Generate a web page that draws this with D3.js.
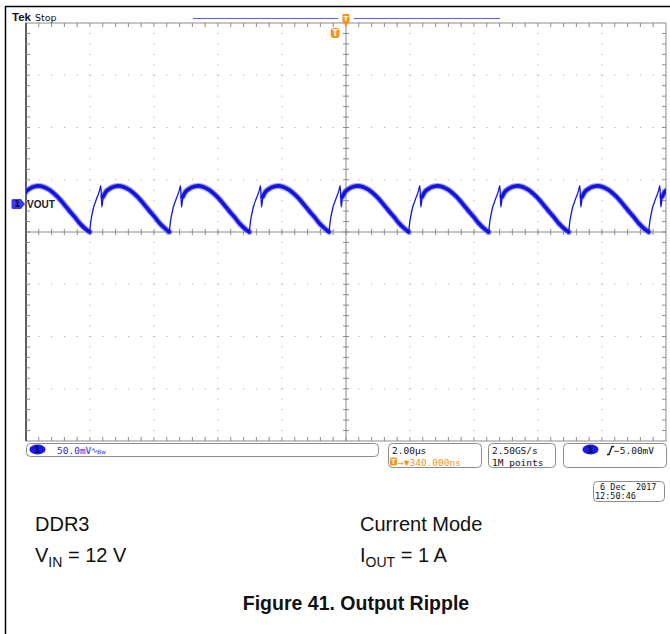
<!DOCTYPE html>
<html>
<head>
<meta charset="utf-8">
<script src="https://cdnjs.cloudflare.com/ajax/libs/d3/7.8.5/d3.min.js"></script>
<style>
body { margin: 0; background: #fff; }
svg { display: block; }
.mono { font-family: "DejaVu Sans Mono", monospace; font-size: 9.5px; }
.note { font-family: "Liberation Sans", Arial, sans-serif; font-size: 20px; fill: #111; }
</style>
</head>
<body>
<div id="svgholder"></div>
<script>

// one switching period of VOUT: [µs after the trough, mV]
var cycle_shape = [
    [0.00, -26.8], [0.03, -18.0], [0.06, -12.0], [0.31, 13.0], [0.35, 17.5],
    [0.38, -3.0], [0.42, 7.0], [0.50, 11.5], [0.62, 14.5], [0.78, 16.8],
    [0.90, 17.3], [1.06, 16.3], [1.25, 13.4], [1.40, 9.6], [1.56, 4.8],
    [1.72, -1.0], [1.87, -6.7], [2.03, -12.4], [2.18, -18.2], [2.34, -23.0]
]
// where each trough sits (µs, trigger point = 0)
var trough_times = [-10.17, -7.67, -5.18, -2.68, -0.19, 2.30, 4.80, 7.30, 9.80]

// scope settings
var mv_per_div = 50
var us_per_div = 2
var h_divs = 10
var v_divs = 8
var ch1_offset_div = 0.536
var horiz_delay_us = 0.34

// readouts
var ch1_label = "VOUT"
var ch1_scale = "50.0mV"
var timebase = "2.00µs"
var trig_delay = "340.000ns"
var sample_rate = ["2.50GS/s", "1M points"]
var trig_level = "\u22125.00mV"
var date_lines = [" 6 Dec  2017", "12:50:46"]

var notes_left = ["DDR3", "V|IN| = 12 V"]
var notes_right = ["Current Mode", "I|OUT| = 1 A"]
var caption = "Figure 41. Output Ripple"

var blue = "#1414e0"
var orange = "#f3941e"
var grey = "#8c8c8c"

var width = 670, height = 634
var grat = {left: 26, right: 666, top: 23, bottom: 441}

var svg = d3.select("#svgholder")
    .append("svg")
    .attr("width", width)
    .attr("height", height)

// outer page frame
svg.append("rect")
    .attr("x", 5.5).attr("y", 6.5)
    .attr("width", width + 10).attr("height", height + 10)
    .attr("fill", "none").attr("stroke", "#000").attr("stroke-width", 1.5)

var x = d3.scaleLinear()
    .domain([horiz_delay_us - us_per_div * h_divs / 2, horiz_delay_us + us_per_div * h_divs / 2])
    .range([grat.left, grat.right])
var y = d3.scaleLinear()
    .domain([(-v_divs / 2 - ch1_offset_div) * mv_per_div, (v_divs / 2 - ch1_offset_div) * mv_per_div])
    .range([grat.bottom, grat.top])

var xdiv = d3.scaleLinear().domain([0, h_divs]).range([grat.left, grat.right])
var ydiv = d3.scaleLinear().domain([0, v_divs]).range([grat.bottom, grat.top])

// ---- graticule
var g = svg.append("g")

// dotted grid lines
var dots = []
d3.range(1, h_divs).forEach(function(i) {
    if (i == h_divs / 2) return
    d3.range(1, v_divs * 5).forEach(function(j) { dots.push([xdiv(i), ydiv(j / 5)]) })
})
d3.range(1, v_divs).forEach(function(j) {
    if (j == v_divs / 2) return
    d3.range(1, h_divs * 5).forEach(function(i) { dots.push([xdiv(i / 5), ydiv(j)]) })
})
g.selectAll(".dot").data(dots).enter().append("rect")
    .attr("class", "dot")
    .attr("x", function(d) { return d[0] - 0.5 })
    .attr("y", function(d) { return d[1] - 0.5 })
    .attr("width", 1).attr("height", 1)
    .attr("fill", "#a0a0a0")

// centre cross and edges with minor ticks
var cx = xdiv(h_divs / 2), cy = ydiv(v_divs / 2)
g.append("line").attr("x1", grat.left).attr("x2", grat.right).attr("y1", cy).attr("y2", cy)
    .attr("stroke", grey)
g.append("line").attr("x1", cx).attr("x2", cx).attr("y1", grat.top).attr("y2", grat.bottom)
    .attr("stroke", grey)
g.append("rect")
    .attr("x", grat.left).attr("y", grat.top)
    .attr("width", grat.right - grat.left).attr("height", grat.bottom - grat.top)
    .attr("fill", "none").attr("stroke", grey)
g.append("line").attr("x1", grat.left).attr("x2", grat.left).attr("y1", grat.top).attr("y2", grat.bottom)
    .attr("stroke", "#444").attr("stroke-width", 1.6)

var ticks = []
d3.range(1, h_divs * 5).forEach(function(i) {
    var px = xdiv(i / 5)
    ticks.push([px, cy - 3, px, cy + 3])
    ticks.push([px, grat.top, px, grat.top + 4])
    ticks.push([px, grat.bottom - 4, px, grat.bottom])
})
d3.range(1, v_divs * 5).forEach(function(j) {
    var py = ydiv(j / 5)
    ticks.push([cx - 3, py, cx + 3, py])
    ticks.push([grat.left, py, grat.left + 4, py])
    ticks.push([grat.right - 4, py, grat.right, py])
})
g.selectAll(".tick").data(ticks).enter().append("line")
    .attr("class", "tick")
    .attr("x1", function(d) { return d[0] }).attr("y1", function(d) { return d[1] })
    .attr("x2", function(d) { return d[2] }).attr("y2", function(d) { return d[3] })
    .attr("stroke", grey)

// ---- trace
svg.append("clipPath").attr("id", "clip")
    .append("rect")
    .attr("x", grat.left).attr("y", grat.top)
    .attr("width", grat.right - grat.left).attr("height", grat.bottom - grat.top)

var points = []
trough_times.forEach(function(t0) {
    cycle_shape.forEach(function(p) { points.push([t0 + p[0], p[1]]) })
})

// fast edges are drawn thin like on the scope, slow parts thick
var runs = [], run = null
for (var i = 1; i < points.length; i++) {
    var slope = Math.abs(points[i][1] - points[i - 1][1]) / (points[i][0] - points[i - 1][0])
    var fast = slope > 80
    if (!run || run.fast != fast) {
        run = {fast: fast, pts: [points[i - 1]]}
        runs.push(run)
    }
    run.pts.push(points[i])
}

var line = d3.line()
    .x(function(d) { return x(d[0]) })
    .y(function(d) { return y(d[1]) })
    .curve(d3.curveMonotoneX)

var trace = svg.append("g").attr("clip-path", "url(#clip)")
trace.selectAll(".fuzz").data(runs.filter(function(r) { return !r.fast })).enter()
    .append("path").attr("class", "fuzz")
    .attr("d", function(r) { return line(r.pts) })
    .attr("fill", "none").attr("stroke", "#5c5cf2").attr("stroke-opacity", 0.6)
    .attr("stroke-width", 6).attr("stroke-linecap", "round").attr("stroke-linejoin", "round")
trace.selectAll(".wave").data(runs).enter()
    .append("path").attr("class", "wave")
    .attr("d", function(r) { return line(r.pts) })
    .attr("fill", "none").attr("stroke", blue)
    .attr("stroke-width", function(r) { return r.fast ? 1.3 : 3.6 })
    .attr("stroke-linecap", "round").attr("stroke-linejoin", "round")

// ---- channel marker
var my = y(0)
svg.append("path")
    .attr("d", "M13," + (my - 5) + "h8l4,5l-4,5h-8a1.5,1.5 0 0 1 -1.5,-1.5v-7a1.5,1.5 0 0 1 1.5,-1.5z")
    .attr("fill", "#3a3af0")
svg.append("text").attr("x", 17.5).attr("y", my + 3.5)
    .attr("text-anchor", "middle")
    .style("font", "bold 9px 'DejaVu Sans'").style("fill", "#0c0c3a").text("1")
svg.append("text").attr("x", 27).attr("y", my + 4)
    .style("font", "bold 10px 'Liberation Sans'").style("fill", "#222").text(ch1_label)

// ---- top line
svg.append("text").attr("x", 12).attr("y", 21)
    .style("font", "bold 11.5px 'Liberation Sans'").style("fill", "#111").text("Tek")
svg.append("text").attr("x", 35).attr("y", 21)
    .style("font", "9.5px 'DejaVu Sans'").style("fill", "#111").text("Stop")

// record view bar with gap at the horizontal position marker
var hx = x(horiz_delay_us)
svg.append("line").attr("x1", 193).attr("x2", hx - 8).attr("y1", 18.5).attr("y2", 18.5)
    .attr("stroke", "#5a5af0").attr("stroke-width", 1.2)
svg.append("line").attr("x1", hx + 8).attr("x2", 500).attr("y1", 18.5).attr("y2", 18.5)
    .attr("stroke", "#5a5af0").attr("stroke-width", 1.2)
svg.append("path")
    .attr("d", "M" + (hx - 3.5) + ",14h7v8l-3.5,4l-3.5,-4z")
    .attr("fill", orange)
svg.append("text").attr("x", hx).attr("y", 21)
    .attr("text-anchor", "middle")
    .style("font", "bold 7px 'DejaVu Sans'").style("fill", "#fff").text("T")

// trigger position marker
var tx = x(0)
svg.append("rect").attr("x", tx - 4.5).attr("y", 28).attr("width", 9).attr("height", 10)
    .attr("rx", 3).attr("fill", orange)
svg.append("text").attr("x", tx).attr("y", 36)
    .attr("text-anchor", "middle")
    .style("font", "bold 8px 'DejaVu Sans'").style("fill", "#fff").text("T")

// ---- readout boxes
function box(x0, y0, w, h) {
    svg.append("rect").attr("x", x0 + 0.5).attr("y", y0 + 0.5).attr("width", w).attr("height", h)
        .attr("rx", 4).attr("fill", "#fff").attr("stroke", grey)
}
function ch_badge(cx0, cy0) {
    svg.append("ellipse").attr("cx", cx0).attr("cy", cy0).attr("rx", 8).attr("ry", 5)
        .attr("fill", "#1a1aee")
    svg.append("text").attr("x", cx0).attr("y", cy0 + 3.5).attr("text-anchor", "middle")
        .style("font", "bold 9px 'DejaVu Sans'").style("fill", "#0c0c3a").text("1")
}

box(26, 443, 352, 13)
ch_badge(37.5, 449.5)
svg.append("text").attr("class", "mono").attr("x", 57).attr("y", 453.5)
    .style("fill", "#2b2bd8").text(ch1_scale)
svg.append("text").attr("class", "mono").attr("x", 91).attr("y", 452.5)
    .style("fill", "#2b2bd8").style("font-size", "8px").text("\u223F")
svg.append("text").attr("x", 97).attr("y", 453.5)
    .style("font", "6px 'DejaVu Sans'").style("fill", "#2b2bd8").text("Bw")

box(388, 443, 93, 24)
svg.append("text").attr("class", "mono").attr("x", 392).attr("y", 453.5).style("fill", "#111").text(timebase)
svg.append("rect").attr("x", 390).attr("y", 457.5).attr("width", 7).attr("height", 8).attr("rx", 1.5)
    .attr("fill", orange)
svg.append("text").attr("x", 393.5).attr("y", 464).attr("text-anchor", "middle")
    .style("font", "bold 7px 'DejaVu Sans'").style("fill", "#fff").text("T")
svg.append("text").attr("class", "mono").attr("x", 398).attr("y", 465.5)
    .style("fill", orange).text("\u2192\u25BC" + trig_delay)

box(488, 443, 67, 24)
svg.selectAll(".sr").data(sample_rate).enter().append("text")
    .attr("class", "mono sr").attr("x", 492)
    .attr("y", function(d, i) { return 453.5 + i * 12 })
    .style("fill", "#111").text(function(d) { return d })

box(563, 443, 103, 24)
ch_badge(590.5, 449.5)
svg.append("path").attr("d", "M607,454.5h2l3,-8h2")
    .attr("fill", "none").attr("stroke", "#111").attr("stroke-width", 1.3)
svg.append("text").attr("class", "mono").attr("x", 614).attr("y", 453.5)
    .style("fill", "#111").text(trig_level)

box(593, 481, 71, 20)
svg.selectAll(".date").data(date_lines).enter().append("text")
    .attr("class", "mono date").attr("x", 595)
    .attr("y", function(d, i) { return 489.5 + i * 9.5 })
    .style("font-size", "8.5px").style("fill", "#111").style("white-space", "pre")
    .attr("xml:space", "preserve")
    .text(function(d) { return d })

// ---- notes under the screen, "A|sub|" marks a subscript
function note(x0, y0, s) {
    var t = svg.append("text").attr("class", "note").attr("x", x0).attr("y", y0)
    s.split("|").forEach(function(part, i) {
        var sp = t.append("tspan").text(part)
        if (i == 1) sp.attr("dy", 5).style("font-size", "14px")
        if (i == 2) sp.attr("dy", -5)
    })
}
notes_left.forEach(function(s, i) { note(35, 531 + i * 31, s) })
notes_right.forEach(function(s, i) { note(360, 531 + i * 31, s) })

svg.append("text").attr("x", 356).attr("y", 610)
    .attr("text-anchor", "middle")
    .style("font", "bold 19.5px 'Liberation Sans'").style("fill", "#111").text(caption)

</script>
</body>
</html>
